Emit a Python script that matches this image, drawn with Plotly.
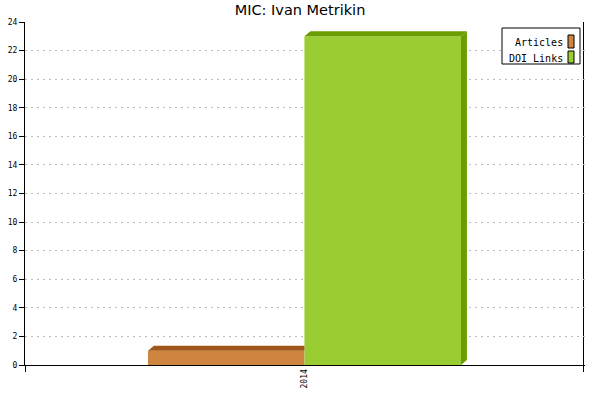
import plotly.graph_objects as go

years = ["2014"]
series_names = ["Articles", "DOI Links"]
articles = [1]
doi_links = [23]
face_colors = ["#CD853F", "#9ACD32"]
shade_colors = ["#A0561A", "#6A9E00"]

W, H = 600, 400
L, R, T, B = 25, 15, 22, 35
pw, ph = W - L - R, H - T - B
bargap = 0.44
y_max = 24

def px_x(p):
    return (p - L) / pw

def px_y(p):
    return (H - B - p) / ph

fig = go.Figure()
for name, vals, col in zip(series_names, [articles, doi_links], face_colors):
    fig.add_trace(go.Bar(x=years, y=vals, name=name, marker=dict(color=col, line=dict(width=0)),
                         showlegend=False))

# fake 3d faces on top / right of each bar
dx = 6 / pw
dy = 5 * y_max / ph
n = len(series_names)
bw = (1 - bargap) / n
shapes = []
for i, vals in enumerate([articles, doi_links]):
    last = i == n - 1
    for j, v in enumerate(vals):
        x0 = j - (1 - bargap) / 2 + i * bw
        x1 = x0 + bw
        xr = x1 + dx if last else x1
        shapes.append(dict(type="path", xref="x", yref="y", layer="above", line=dict(width=0),
                           fillcolor=shade_colors[i],
                           path=f"M{x0},{v} L{x0+dx},{v+dy} L{xr},{v+dy} L{x1},{v} Z"))
        if last:
            shapes.append(dict(type="path", xref="x", yref="y", layer="above", line=dict(width=0),
                               fillcolor=shade_colors[i],
                               path=f"M{x1},0 L{x1+dx},{dy} L{x1+dx},{v+dy} L{x1},{v} Z"))

# legend box drawn by hand (swatches sit right of the text)
shapes.append(dict(type="rect", xref="paper", yref="paper", x0=px_x(502), x1=px_x(580),
                   y0=px_y(64), y1=px_y(28), line=dict(color="black", width=1), fillcolor="white"))
annotations = []
rows = [(35, 48, 43), (51, 63, 58)]
for (top, bot, mid), name, col in zip(rows, series_names, face_colors):
    shapes.append(dict(type="rect", xref="paper", yref="paper", x0=px_x(568), x1=px_x(574),
                       y0=px_y(bot), y1=px_y(top), line=dict(color="black", width=1), fillcolor=col))
    annotations.append(dict(text=name, xref="paper", yref="paper", x=px_x(565), y=px_y(mid),
                            xanchor="right", yanchor="middle", showarrow=False,
                            font=dict(family="DejaVu Sans Mono", size=10, color="black")))

fig.update_layout(
    width=W, height=H,
    margin=dict(l=L, r=R, t=T, b=B, autoexpand=False),
    paper_bgcolor="white", plot_bgcolor="white",
    barmode="group", bargap=bargap, bargroupgap=0,
    title=dict(text="MIC: Ivan Metrikin", x=0.5, xanchor="center", y=1 - 10 / H, yanchor="middle",
               font=dict(family="DejaVu Sans", size=14.5, color="black")),
    shapes=shapes, annotations=annotations,
)
fig.update_xaxes(type="category", tickson="boundaries", ticks="outside", ticklen=6, tickcolor="black",
                 showgrid=True, gridcolor="black", gridwidth=1, showline=True, linecolor="black",
                 linewidth=1, tickangle=-90, range=[-0.5, 0.502], automargin=False,
                 tickfont=dict(family="DejaVu Sans Mono", size=8, color="black"))
fig.update_yaxes(range=[0, y_max], dtick=2, ticks="outside", ticklen=5, tickcolor="black",
                 showline=True, linecolor="black", linewidth=1, showgrid=True, gridcolor="#BBBBBB",
                 griddash="2px,4px", gridwidth=1, zeroline=False, automargin=False,
                 tickfont=dict(family="DejaVu Sans Mono", size=8, color="black"))

# page body has a default 8px margin; drop it so the chart sits at the window corner
fig.write_html("out.html", config={"displayModeBar": False},
               post_script="document.body.style.margin='0';")
